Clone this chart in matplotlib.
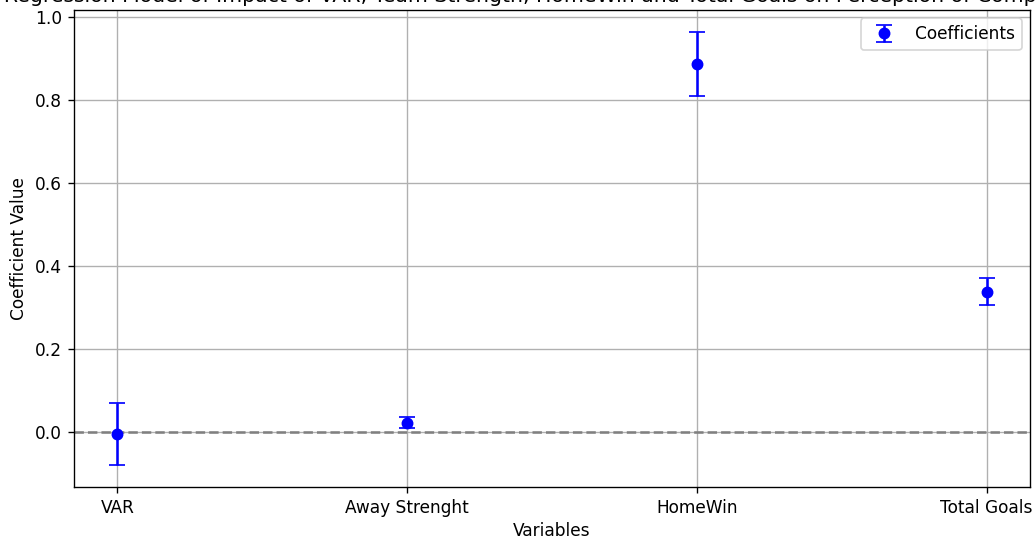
import matplotlib
matplotlib.use("Agg")
import matplotlib.pyplot as plt

variables = ["VAR", "Away Strenght", "HomeWin", "Total Goals"]
coefficients = [-0.006, 0.022, 0.887, 0.338]
errors = [0.075, 0.013, 0.078, 0.033]

DPI = 122
fig = plt.figure(figsize=(1035/DPI, 538/DPI), dpi=DPI)
ax = fig.add_axes([74/1035, 1 - 487/538, (1030-74)/1035, (487-10)/538])

ax.errorbar(variables, coefficients, yerr=errors, fmt='o', color='blue',
            capsize=5, label='Coefficients')
ax.axhline(0, color='gray', linestyle='--')
ax.set_xlabel('Variables', labelpad=3)
ax.set_ylabel('Coefficient Value')
ax.set_title('OLS Regression Model of Impact of VAR, Team Strength, HomeWin and Total Goals on Perception of Competitiveness',
             pad=4.5)
ax.legend(loc='upper right')
ax.grid(True)

fig.savefig('out.png', dpi=DPI)
